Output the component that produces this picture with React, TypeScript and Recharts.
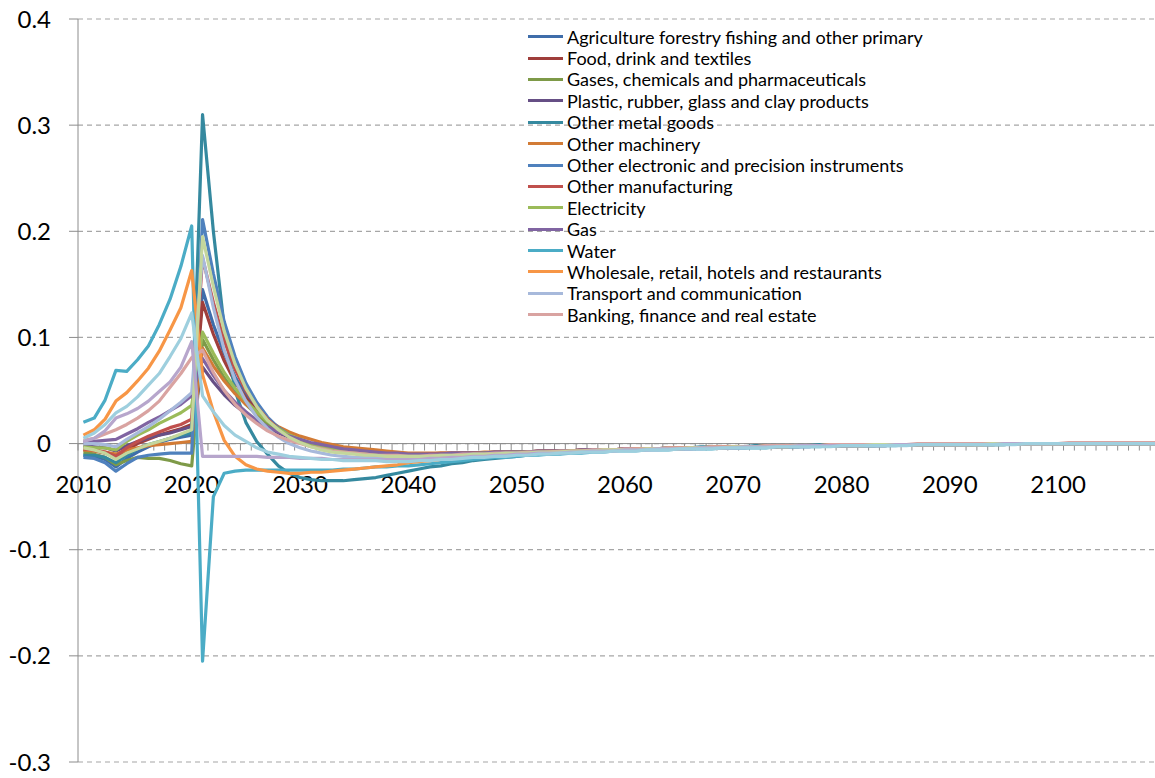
import React from 'react';
import { LineChart, Line, XAxis, YAxis, CartesianGrid, ReferenceLine, Legend } from 'recharts';

const years = Array.from({ length: 100 }, (_, i) => 2010 + i);
const xTickLabels = ['2010', '2020', '2030', '2040', '2050', '2060', '2070', '2080', '2090', '2100'];
const yTicks = [-0.3, -0.2, -0.1, 0, 0.1, 0.2, 0.3, 0.4];

const agriculture = [
  -0.011, -0.012, -0.015, -0.022, -0.014, -0.008, -0.003, 0.001, 0.004, 0.006, 0.008,
  0.145, 0.112, 0.085, 0.063, 0.046, 0.033, 0.022, 0.014, 0.008, 0.003,
  -0.001, -0.004, -0.006, -0.007, -0.008, -0.009, -0.010, -0.010, -0.010, -0.010,
  -0.010, -0.010, -0.010, -0.010, -0.009, -0.009, -0.009, -0.009, -0.009, -0.008,
  -0.008, -0.008, -0.008, -0.007, -0.007, -0.007, -0.007, -0.006, -0.006, -0.006,
  -0.006, -0.005, -0.005, -0.005, -0.005, -0.005, -0.004, -0.004, -0.004, -0.004,
  -0.004, -0.003, -0.003, -0.003, -0.003, -0.003, -0.003, -0.002, -0.002, -0.002,
  -0.002, -0.002, -0.002, -0.002, -0.001, -0.001, -0.001, -0.001, -0.001, -0.001,
  -0.001, -0.001, -0.001, -0.001, 0.000, 0.000, 0.000, 0.000, 0.000, 0.000,
  0.000, 0.000, 0.000, 0.000, 0.000, 0.000, 0.000, 0.000, 0.000,
];
const food = [
  -0.006, -0.007, -0.009, -0.013, -0.006, 0.000, 0.004, 0.008, 0.011, 0.014, 0.018,
  0.133, 0.103, 0.078, 0.058, 0.043, 0.031, 0.021, 0.013, 0.007, 0.003,
  -0.001, -0.003, -0.005, -0.007, -0.008, -0.009, -0.009, -0.010, -0.010, -0.010,
  -0.010, -0.010, -0.009, -0.009, -0.009, -0.009, -0.009, -0.008, -0.008, -0.008,
  -0.008, -0.007, -0.007, -0.007, -0.007, -0.006, -0.006, -0.006, -0.006, -0.005,
  -0.005, -0.005, -0.005, -0.005, -0.004, -0.004, -0.004, -0.004, -0.004, -0.003,
  -0.003, -0.003, -0.003, -0.003, -0.003, -0.002, -0.002, -0.002, -0.002, -0.002,
  -0.002, -0.002, -0.001, -0.001, -0.001, -0.001, -0.001, -0.001, -0.001, -0.001,
  -0.001, -0.001, 0.000, 0.000, 0.000, 0.000, 0.000, 0.000, 0.000, 0.000,
  0.000, 0.000, 0.000, 0.000, 0.000, 0.000, 0.000, 0.000, 0.000,
];
const gases = [
  -0.008, -0.010, -0.013, -0.020, -0.016, -0.013, -0.014, -0.014, -0.016, -0.019, -0.021,
  0.098, 0.079, 0.062, 0.048, 0.037, 0.027, 0.019, 0.012, 0.007, 0.003,
  0.000, -0.003, -0.005, -0.007, -0.008, -0.009, -0.010, -0.011, -0.011, -0.012,
  -0.012, -0.012, -0.011, -0.011, -0.011, -0.010, -0.010, -0.010, -0.009, -0.009,
  -0.009, -0.008, -0.008, -0.008, -0.007, -0.007, -0.007, -0.006, -0.006, -0.006,
  -0.006, -0.005, -0.005, -0.005, -0.005, -0.004, -0.004, -0.004, -0.004, -0.004,
  -0.003, -0.003, -0.003, -0.003, -0.003, -0.003, -0.002, -0.002, -0.002, -0.002,
  -0.002, -0.002, -0.002, -0.002, -0.001, -0.001, -0.001, -0.001, -0.001, -0.001,
  -0.001, -0.001, -0.001, -0.001, -0.001, 0.000, 0.000, 0.000, 0.000, 0.000,
  0.000, 0.000, 0.000, 0.000, 0.000, 0.000, 0.000, 0.000, 0.000,
];
const plastic = [
  -0.002, -0.003, -0.004, -0.007, -0.002, 0.002, 0.005, 0.008, 0.010, 0.013, 0.016,
  0.072, 0.058, 0.046, 0.036, 0.028, 0.021, 0.015, 0.010, 0.006, 0.003,
  0.000, -0.002, -0.004, -0.006, -0.007, -0.008, -0.009, -0.009, -0.010, -0.010,
  -0.010, -0.010, -0.010, -0.009, -0.009, -0.009, -0.009, -0.008, -0.008, -0.008,
  -0.008, -0.007, -0.007, -0.007, -0.007, -0.006, -0.006, -0.006, -0.006, -0.005,
  -0.005, -0.005, -0.005, -0.004, -0.004, -0.004, -0.004, -0.004, -0.003, -0.003,
  -0.003, -0.003, -0.003, -0.003, -0.002, -0.002, -0.002, -0.002, -0.002, -0.002,
  -0.002, -0.001, -0.001, -0.001, -0.001, -0.001, -0.001, -0.001, -0.001, -0.001,
  -0.001, 0.000, 0.000, 0.000, 0.000, 0.000, 0.000, 0.000, 0.000, 0.000,
  0.000, 0.000, 0.000, 0.000, 0.000, 0.000, 0.000, 0.000, 0.000,
];
const metalGoods = [
  -0.011, -0.011, -0.013, -0.018, -0.011, -0.005, -0.001, 0.002, 0.005, 0.008, 0.010,
  0.310, 0.200, 0.110, 0.050, 0.020, 0.002, -0.010, -0.021, -0.028, -0.032,
  -0.034, -0.035, -0.035, -0.035, -0.034, -0.033, -0.032, -0.030, -0.028, -0.026,
  -0.024, -0.022, -0.021, -0.019, -0.018, -0.016, -0.015, -0.014, -0.013, -0.012,
  -0.011, -0.010, -0.010, -0.009, -0.008, -0.008, -0.007, -0.007, -0.006, -0.006,
  -0.005, -0.005, -0.005, -0.004, -0.004, -0.004, -0.003, -0.003, -0.003, -0.003,
  -0.003, -0.002, -0.002, -0.002, -0.002, -0.002, -0.002, -0.001, -0.001, -0.001,
  -0.001, -0.001, -0.001, -0.001, -0.001, -0.001, -0.001, -0.001, -0.001, -0.001,
  -0.001, -0.001, 0.000, 0.000, 0.000, 0.000, 0.000, 0.000, 0.000, 0.000,
  0.000, 0.000, 0.000, 0.000, 0.000, 0.000, 0.000, 0.000, 0.000,
];
const machinery = [
  -0.006, -0.007, -0.008, -0.010, -0.006, -0.004, -0.002, -0.001, 0.000, 0.001, 0.002,
  0.090, 0.073, 0.059, 0.047, 0.037, 0.029, 0.022, 0.016, 0.011, 0.007,
  0.004, 0.001, -0.001, -0.003, -0.004, -0.005, -0.006, -0.007, -0.008, -0.009,
  -0.009, -0.009, -0.009, -0.009, -0.009, -0.009, -0.008, -0.008, -0.008, -0.008,
  -0.008, -0.007, -0.007, -0.007, -0.007, -0.006, -0.006, -0.006, -0.006, -0.005,
  -0.005, -0.005, -0.005, -0.005, -0.004, -0.004, -0.004, -0.004, -0.003, -0.003,
  -0.003, -0.003, -0.003, -0.003, -0.002, -0.002, -0.002, -0.002, -0.002, -0.002,
  -0.002, -0.001, -0.001, -0.001, -0.001, -0.001, -0.001, -0.001, -0.001, -0.001,
  0.000, 0.000, 0.000, 0.000, 0.000, 0.000, 0.000, 0.000, 0.000, 0.000,
  0.000, 0.000, 0.000, 0.000, 0.000, 0.000, 0.000, 0.000, 0.000,
];
const electronic = [
  -0.013, -0.014, -0.018, -0.026, -0.019, -0.013, -0.011, -0.010, -0.009, -0.009, -0.009,
  0.211, 0.160, 0.115, 0.082, 0.057, 0.039, 0.025, 0.015, 0.008, 0.003,
  -0.001, -0.004, -0.006, -0.008, -0.009, -0.010, -0.010, -0.011, -0.011, -0.011,
  -0.011, -0.011, -0.010, -0.010, -0.010, -0.010, -0.009, -0.009, -0.009, -0.009,
  -0.008, -0.008, -0.008, -0.007, -0.007, -0.007, -0.007, -0.006, -0.006, -0.006,
  -0.006, -0.005, -0.005, -0.005, -0.005, -0.004, -0.004, -0.004, -0.004, -0.004,
  -0.003, -0.003, -0.003, -0.003, -0.003, -0.003, -0.002, -0.002, -0.002, -0.002,
  -0.002, -0.002, -0.002, -0.001, -0.001, -0.001, -0.001, -0.001, -0.001, -0.001,
  -0.001, -0.001, -0.001, 0.000, 0.000, 0.000, 0.000, 0.000, 0.000, 0.000,
  0.000, 0.000, 0.000, 0.000, 0.000, 0.000, 0.000, 0.000, 0.000,
];
const manufacturing = [
  -0.005, -0.006, -0.008, -0.012, -0.004, 0.002, 0.007, 0.011, 0.015, 0.018, 0.023,
  0.175, 0.133, 0.097, 0.070, 0.050, 0.035, 0.023, 0.014, 0.007, 0.002,
  -0.002, -0.005, -0.007, -0.008, -0.009, -0.010, -0.010, -0.011, -0.011, -0.011,
  -0.011, -0.010, -0.010, -0.010, -0.010, -0.009, -0.009, -0.009, -0.009, -0.008,
  -0.008, -0.008, -0.008, -0.007, -0.007, -0.007, -0.006, -0.006, -0.006, -0.006,
  -0.005, -0.005, -0.005, -0.005, -0.005, -0.004, -0.004, -0.004, -0.004, -0.003,
  -0.003, -0.003, -0.003, -0.003, -0.003, -0.002, -0.002, -0.002, -0.002, -0.002,
  -0.002, -0.002, -0.001, -0.001, -0.001, -0.001, -0.001, -0.001, -0.001, -0.001,
  -0.001, -0.001, 0.000, 0.000, 0.000, 0.000, 0.000, 0.000, 0.000, 0.000,
  0.000, 0.000, 0.000, 0.000, 0.000, 0.000, 0.000, 0.000, 0.000,
];
const electricity = [
  -0.003, -0.004, -0.004, -0.006, 0.002, 0.008, 0.013, 0.019, 0.024, 0.029, 0.036,
  0.105, 0.085, 0.067, 0.052, 0.040, 0.030, 0.021, 0.014, 0.008, 0.004,
  0.000, -0.003, -0.005, -0.007, -0.008, -0.009, -0.010, -0.010, -0.011, -0.011,
  -0.011, -0.011, -0.011, -0.010, -0.010, -0.010, -0.009, -0.009, -0.009, -0.008,
  -0.008, -0.008, -0.008, -0.007, -0.007, -0.007, -0.006, -0.006, -0.006, -0.006,
  -0.005, -0.005, -0.005, -0.005, -0.004, -0.004, -0.004, -0.004, -0.004, -0.003,
  -0.003, -0.003, -0.003, -0.003, -0.003, -0.002, -0.002, -0.002, -0.002, -0.002,
  -0.002, -0.002, -0.002, -0.001, -0.001, -0.001, -0.001, -0.001, -0.001, -0.001,
  -0.001, -0.001, -0.001, -0.001, 0.000, 0.000, 0.000, 0.000, 0.000, 0.000,
  0.000, 0.000, 0.000, 0.000, 0.000, 0.000, 0.000, 0.000, 0.000,
];
const gas = [
  0.001, 0.002, 0.003, 0.004, 0.009, 0.014, 0.020, 0.025, 0.031, 0.037, 0.045,
  0.080, 0.064, 0.050, 0.039, 0.030, 0.022, 0.016, 0.011, 0.007, 0.004,
  0.001, -0.001, -0.003, -0.005, -0.006, -0.007, -0.008, -0.009, -0.009, -0.010,
  -0.010, -0.010, -0.010, -0.009, -0.009, -0.009, -0.009, -0.008, -0.008, -0.008,
  -0.008, -0.007, -0.007, -0.007, -0.007, -0.006, -0.006, -0.006, -0.006, -0.005,
  -0.005, -0.005, -0.005, -0.005, -0.004, -0.004, -0.004, -0.004, -0.003, -0.003,
  -0.003, -0.003, -0.003, -0.003, -0.002, -0.002, -0.002, -0.002, -0.002, -0.002,
  -0.002, -0.001, -0.001, -0.001, -0.001, -0.001, -0.001, -0.001, -0.001, -0.001,
  -0.001, 0.000, 0.000, 0.000, 0.000, 0.000, 0.000, 0.000, 0.000, 0.000,
  0.000, 0.000, 0.000, 0.000, 0.000, 0.000, 0.000, 0.000, 0.000,
];
const water = [
  0.020, 0.024, 0.041, 0.069, 0.068, 0.079, 0.092, 0.112, 0.136, 0.167, 0.205,
  -0.205, -0.050, -0.028, -0.026, -0.025, -0.025, -0.025, -0.025, -0.025, -0.025,
  -0.025, -0.025, -0.025, -0.024, -0.024, -0.023, -0.022, -0.022, -0.021, -0.021,
  -0.020, -0.019, -0.018, -0.017, -0.016, -0.015, -0.014, -0.013, -0.013, -0.012,
  -0.011, -0.011, -0.010, -0.010, -0.009, -0.009, -0.008, -0.008, -0.007, -0.007,
  -0.007, -0.006, -0.006, -0.006, -0.005, -0.005, -0.005, -0.005, -0.004, -0.004,
  -0.004, -0.004, -0.004, -0.003, -0.003, -0.003, -0.003, -0.003, -0.002, -0.002,
  -0.002, -0.002, -0.002, -0.002, -0.002, -0.001, -0.001, -0.001, -0.001, -0.001,
  -0.001, -0.001, -0.001, -0.001, -0.001, 0.000, 0.000, 0.000, 0.000, 0.000,
  0.000, 0.000, 0.000, 0.000, 0.000, 0.000, 0.000, 0.000, 0.000,
];
const wholesale = [
  0.008, 0.013, 0.023, 0.040, 0.048, 0.059, 0.071, 0.087, 0.107, 0.128, 0.163,
  0.065, 0.030, 0.003, -0.012, -0.020, -0.024, -0.026, -0.027, -0.028, -0.028,
  -0.027, -0.027, -0.026, -0.025, -0.024, -0.023, -0.022, -0.021, -0.020, -0.018,
  -0.017, -0.016, -0.015, -0.014, -0.013, -0.012, -0.012, -0.011, -0.010, -0.010,
  -0.009, -0.009, -0.008, -0.008, -0.007, -0.007, -0.007, -0.006, -0.006, -0.006,
  -0.005, -0.005, -0.005, -0.004, -0.004, -0.004, -0.004, -0.003, -0.003, -0.003,
  -0.003, -0.003, -0.002, -0.002, -0.002, -0.002, -0.002, -0.002, -0.001, -0.001,
  -0.001, -0.001, -0.001, -0.001, -0.001, -0.001, -0.001, -0.001, -0.001, -0.001,
  -0.001, -0.001, -0.001, 0.000, 0.000, 0.000, 0.000, 0.000, 0.000, 0.000,
  0.000, 0.000, 0.000, 0.000, 0.000, 0.000, 0.000, 0.000, 0.000,
];
const transport = [
  0.000, 0.000, -0.001, -0.003, 0.004, 0.010, 0.016, 0.023, 0.031, 0.039, 0.048,
  0.177, 0.128, 0.088, 0.060, 0.040, 0.025, 0.014, 0.006, 0.000, -0.004,
  -0.007, -0.009, -0.011, -0.012, -0.013, -0.013, -0.013, -0.013, -0.013, -0.013,
  -0.013, -0.012, -0.012, -0.012, -0.011, -0.011, -0.011, -0.010, -0.010, -0.010,
  -0.009, -0.009, -0.009, -0.008, -0.008, -0.008, -0.007, -0.007, -0.007, -0.006,
  -0.006, -0.006, -0.006, -0.005, -0.005, -0.005, -0.005, -0.004, -0.004, -0.004,
  -0.004, -0.003, -0.003, -0.003, -0.003, -0.003, -0.003, -0.002, -0.002, -0.002,
  -0.002, -0.002, -0.002, -0.002, -0.001, -0.001, -0.001, -0.001, -0.001, -0.001,
  -0.001, -0.001, -0.001, -0.001, -0.001, 0.000, 0.000, 0.000, 0.000, 0.000,
  0.000, 0.000, 0.000, 0.000, 0.000, 0.000, 0.000, 0.000, 0.000,
];
const banking = [
  0.003, 0.005, 0.009, 0.013, 0.018, 0.024, 0.031, 0.040, 0.053, 0.066, 0.081,
  0.088, 0.067, 0.050, 0.037, 0.027, 0.019, 0.012, 0.007, 0.003, 0.000,
  -0.003, -0.005, -0.007, -0.008, -0.009, -0.010, -0.011, -0.011, -0.011, -0.012,
  -0.012, -0.011, -0.011, -0.011, -0.010, -0.010, -0.010, -0.009, -0.009, -0.009,
  -0.008, -0.008, -0.008, -0.007, -0.007, -0.007, -0.006, -0.006, -0.006, -0.005,
  -0.005, -0.005, -0.005, -0.004, -0.004, -0.004, -0.004, -0.003, -0.003, -0.003,
  -0.003, -0.003, -0.002, -0.002, -0.002, -0.002, -0.002, -0.002, -0.001, -0.001,
  -0.001, -0.001, -0.001, -0.001, -0.001, -0.001, 0.000, 0.000, 0.000, 0.000,
  0.000, 0.000, 0.000, 0.000, 0.000, 0.000, 0.000, 0.000, 0.000, 0.000,
  0.001, 0.001, 0.001, 0.001, 0.001, 0.001, 0.001, 0.001, 0.001,
];
const paleGreen = [
  -0.004, -0.006, -0.009, -0.015, -0.009, -0.005, -0.001, 0.002, 0.005, 0.009, 0.013,
  0.195, 0.148, 0.106, 0.075, 0.052, 0.035, 0.022, 0.013, 0.006, 0.001,
  -0.003, -0.006, -0.008, -0.009, -0.010, -0.011, -0.011, -0.012, -0.012, -0.012,
  -0.012, -0.012, -0.011, -0.011, -0.011, -0.010, -0.010, -0.010, -0.009, -0.009,
  -0.009, -0.008, -0.008, -0.008, -0.007, -0.007, -0.007, -0.006, -0.006, -0.006,
  -0.006, -0.005, -0.005, -0.005, -0.005, -0.004, -0.004, -0.004, -0.004, -0.003,
  -0.003, -0.003, -0.003, -0.003, -0.003, -0.002, -0.002, -0.002, -0.002, -0.002,
  -0.002, -0.002, -0.001, -0.001, -0.001, -0.001, -0.001, -0.001, -0.001, -0.001,
  -0.001, -0.001, -0.001, 0.000, 0.000, 0.000, 0.000, 0.000, 0.000, 0.000,
  0.000, 0.000, 0.000, 0.000, 0.000, 0.000, 0.000, 0.000, 0.000,
];
const lightPurple = [
  0.002, 0.005, 0.012, 0.024, 0.028, 0.033, 0.040, 0.049, 0.058, 0.072, 0.096,
  -0.012, -0.012, -0.012, -0.012, -0.012, -0.012, -0.013, -0.013, -0.013, -0.014,
  -0.014, -0.014, -0.015, -0.015, -0.015, -0.015, -0.015, -0.015, -0.015, -0.015,
  -0.015, -0.014, -0.014, -0.013, -0.013, -0.012, -0.012, -0.011, -0.011, -0.010,
  -0.010, -0.009, -0.009, -0.009, -0.008, -0.008, -0.007, -0.007, -0.007, -0.006,
  -0.006, -0.006, -0.005, -0.005, -0.005, -0.005, -0.004, -0.004, -0.004, -0.004,
  -0.003, -0.003, -0.003, -0.003, -0.003, -0.002, -0.002, -0.002, -0.002, -0.002,
  -0.002, -0.002, -0.002, -0.002, -0.001, -0.001, -0.001, -0.001, -0.001, -0.001,
  -0.001, -0.001, -0.001, -0.001, 0.000, 0.000, 0.000, 0.000, 0.000, 0.000,
  0.000, 0.000, 0.000, 0.000, 0.000, 0.000, 0.000, 0.000, 0.000,
];
const lightAqua = [
  0.005, 0.010, 0.018, 0.029, 0.035, 0.044, 0.055, 0.066, 0.082, 0.099, 0.123,
  0.045, 0.030, 0.017, 0.008, 0.002, -0.004, -0.008, -0.010, -0.012, -0.013,
  -0.014, -0.015, -0.015, -0.016, -0.016, -0.016, -0.016, -0.017, -0.017, -0.017,
  -0.016, -0.016, -0.015, -0.015, -0.014, -0.013, -0.013, -0.012, -0.012, -0.011,
  -0.011, -0.010, -0.010, -0.009, -0.009, -0.008, -0.008, -0.008, -0.007, -0.007,
  -0.007, -0.006, -0.006, -0.006, -0.005, -0.005, -0.005, -0.005, -0.004, -0.004,
  -0.004, -0.004, -0.004, -0.003, -0.003, -0.003, -0.003, -0.003, -0.003, -0.002,
  -0.002, -0.002, -0.002, -0.002, -0.002, -0.002, -0.001, -0.001, -0.001, -0.001,
  -0.001, -0.001, -0.001, -0.001, -0.001, -0.001, 0.000, 0.000, 0.000, 0.000,
  0.000, 0.000, 0.000, 0.000, 0.000, 0.000, 0.000, 0.000, 0.000,
];

const seriesNames = [
  'Agriculture forestry fishing and other primary',
  'Food, drink and textiles',
  'Gases, chemicals and pharmaceuticals',
  'Plastic, rubber, glass and clay products',
  'Other metal goods',
  'Other machinery',
  'Other electronic and precision instruments',
  'Other manufacturing',
  'Electricity',
  'Gas',
  'Water',
  'Wholesale, retail, hotels and restaurants',
  'Transport and communication',
  'Banking, finance and real estate',
  'Series 15',
  'Series 16',
  'Series 17',
];
const seriesColors = [
  '#3F6DAA', '#9F3E3B', '#7E9A48', '#664F85', '#35899F', '#D27B35',
  '#4F81BD', '#C0504D', '#9BBB59', '#8064A2', '#4BACC6', '#F79646',
  '#A7B9DB', '#D9A3A1', '#C4D69C', '#B7A6CC', '#9ECFDE',
];
const seriesValues = [
  agriculture, food, gases, plastic, metalGoods, machinery, electronic, manufacturing,
  electricity, gas, water, wholesale, transport, banking, paleGreen, lightPurple, lightAqua,
];
const legendCount = 14;

const data = years.map((year, i) => {
  const row: Record<string, number> = { year };
  seriesValues.forEach((vals, s) => {
    row['s' + s] = vals[i];
  });
  return row;
});

const FONT = 'Lato, "Open Sans", sans-serif';
const AXIS_GRAY = '#8C8C8C';

const ZeroAxis = (props: any) => {
  const { x1, x2, y1 } = props;
  const left = Math.min(x1, x2);
  const right = Math.max(x1, x2);
  const step = (right - left) / years.length;
  const marks = [];
  for (let k = 0; k <= years.length; k++) {
    const x = left + k * step;
    marks.push(<line key={'t' + k} x1={x} x2={x} y1={y1} y2={y1 + 7} stroke={AXIS_GRAY} strokeWidth={1} />);
  }
  const labels = xTickLabels.map((lbl) => {
    const idx = years.indexOf(Number(lbl));
    const x = left + (idx + 0.5) * step;
    return (
      <text key={lbl} x={x} y={y1 + 49} textAnchor="middle" fontFamily={FONT} fontSize={24} fill="#000">
        {lbl}
      </text>
    );
  });
  return (
    <g>
      <line x1={left} x2={right} y1={y1} y2={y1} stroke={AXIS_GRAY} strokeWidth={1} />
      {marks}
      {labels}
    </g>
  );
};

const LegendBox = () => (
  <div style={{ fontFamily: FONT, fontSize: 18, color: '#000' }}>
    {seriesNames.slice(0, legendCount).map((name, i) => (
      <div key={name} style={{ display: 'flex', alignItems: 'center', height: 21.4, whiteSpace: 'nowrap' }}>
        <span style={{ display: 'inline-block', width: 35, height: 3, background: seriesColors[i], marginRight: 4 }} />
        <span>{name}</span>
      </div>
    ))}
  </div>
);

const CHART_W = 1161;
const PLOT_LEFT = 78;
const STEP_PAD = (CHART_W - PLOT_LEFT) / years.length / 2;

export default function App() {
  return (
    <div style={{ position: 'absolute', left: 0, top: 0, width: 1155, height: 778, overflow: 'hidden', background: '#fff' }}>
      <LineChart width={CHART_W} height={778} data={data} margin={{ top: 19, right: 0, bottom: 16, left: 0 }}>
        <CartesianGrid horizontal vertical={false} stroke="#A6A6A6" strokeDasharray="5 4" strokeWidth={1.2} />
        <XAxis dataKey="year" hide padding={{ left: STEP_PAD, right: STEP_PAD }} />
        <YAxis
          domain={[-0.3, 0.4]}
          ticks={yTicks}
          width={PLOT_LEFT}
          tickSize={9}
          tickMargin={18}
          axisLine={{ stroke: AXIS_GRAY }}
          tickLine={{ stroke: AXIS_GRAY }}
          tick={{ fill: '#000', fontSize: 24, fontFamily: FONT }}
          tickFormatter={(v: number) => (v === 0 ? '0' : v.toFixed(1))}
          allowDataOverflow
        />
        <ReferenceLine y={0} shape={ZeroAxis} />
        <Legend
          layout="vertical"
          align="center"
          verticalAlign="middle"
          content={LegendBox}
          wrapperStyle={{ position: 'absolute', left: 528, top: 26, width: 540 }}
        />
        {seriesValues.map((_, s) => (
          <Line
            key={s}
            type="linear"
            dataKey={'s' + s}
            name={seriesNames[s]}
            stroke={seriesColors[s]}
            strokeWidth={3.2}
            dot={false}
            activeDot={false}
            isAnimationActive={false}
            strokeLinejoin="round"
          />
        ))}
      </LineChart>
    </div>
  );
}
